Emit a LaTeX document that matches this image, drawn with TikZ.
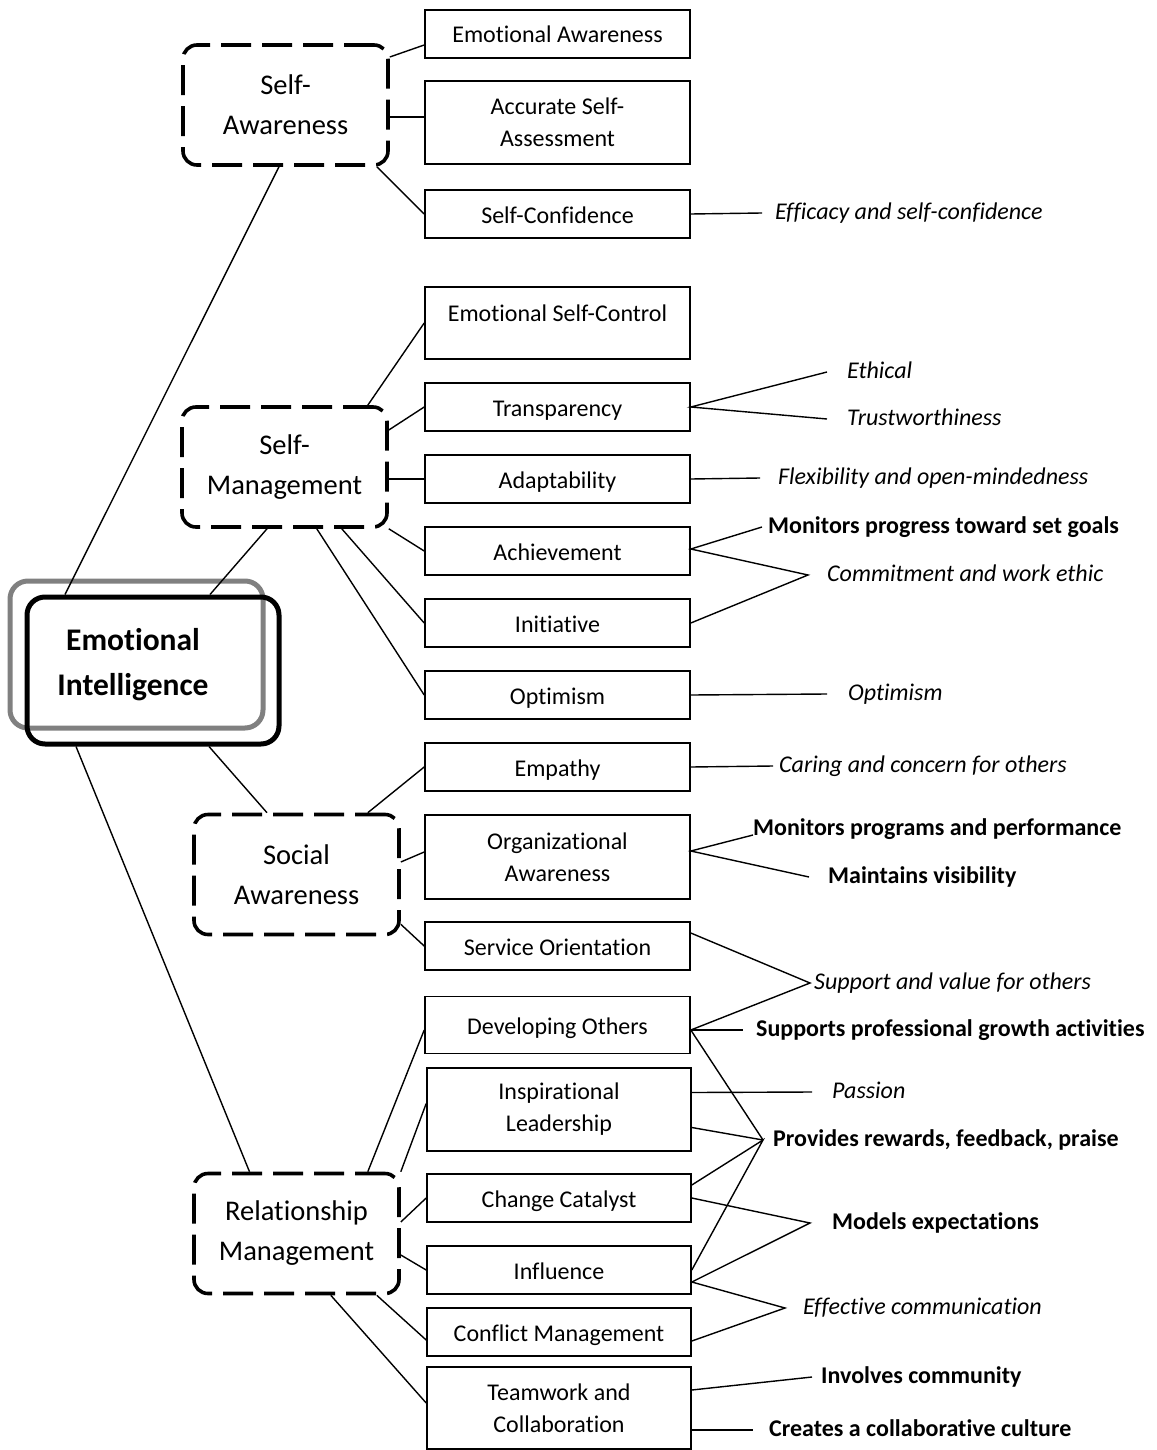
\documentclass[tikz,border=0pt]{standalone}
\usepackage{fontspec}
\setmainfont{Carlito}[Ligatures=NoCommon]
\definecolor{ghostgray}{RGB}{128,128,128}

\begin{document}
\begin{tikzpicture}[x=1pt,y=-1pt,
  box/.style={draw,line width=1.6pt,minimum width=265pt,minimum height=48pt,align=center,inner sep=0pt,font=\fontsize{24}{32}\selectfont},
  leaf/.style={box,text height=20pt,text depth=2pt},
  area/.style={draw,line width=3.6pt,dash pattern=on 30pt off 11pt,rounded corners=14pt,minimum width=205pt,minimum height=120pt,align=center,inner sep=0pt,font=\fontsize{28.5}{40}\selectfont},
  trait/.style={anchor=west,inner sep=0pt,text height=17pt,text depth=5pt,font=\fontsize{24}{29}\selectfont\itshape},
  skill/.style={trait,font=\fontsize{24}{29}\selectfont\bfseries},
  link/.style={line width=1.4pt}]

\useasboundingbox (0,0) rectangle (1156,1450);

% Centre
\node[draw=ghostgray,line width=5pt,rounded corners=18pt,minimum width=253pt,minimum height=147pt] (eighost) at (136.5,654.5) {};
\node[draw,line width=5pt,rounded corners=18pt,minimum width=252pt,minimum height=147pt] (ei) at (153,670.5) {};
\node[align=center,font=\fontsize{31.5}{45}\selectfont\bfseries] (eitext) at (133,665) {Emotional\\Intelligence};

% Areas
\node[area] (sa) at (285.5,105) {Self-\\Awareness};
\node[area] (sm) at (284.5,467) {Self-\\Management};
\node[area] (soc) at (296.5,874.5) {Social\\Awareness};
\node[area] (rm) at (296.5,1233.5) {Relationship\\Management};

\draw[link] ([xshift=-88pt]ei.north) -- ([xshift=-6.5pt]sa.south);
\draw[link] ([xshift=57pt]ei.north) -- ([xshift=-17.5pt]sm.south);
\draw[link] ([xshift=56pt]ei.south) -- ([xshift=-29.5pt]soc.north);
\draw[link] ([xshift=-77pt]ei.south) -- ([xshift=-47pt]rm.north);

% ---- Self-Awareness ----
\node[leaf] (ea) at (557.5,34) {Emotional Awareness};
\node[box,minimum height=83pt] (asa) at (557.5,122.5) {Accurate Self-\\Assessment};
\node[leaf] (sc) at (557.5,214) {Self-Confidence};

\draw[link] ([yshift=48pt]sa.east) -- ([yshift=-11pt]ea.west);
\draw[link] ([yshift=-12pt]sa.east) -- ([yshift=5.5pt]asa.west);
\draw[link] ([xshift=-13pt]sa.south east) -- (sc.west);

\node[trait] (lsc) at (775,213) {Efficacy and self-confidence};
\draw[link] (sc.east) -- ([xshift=-13pt]lsc.west);

% ---- Self-Management ----
\node[box,minimum height=72pt,text height=19pt,text depth=23pt] (esc) at (557.5,323) {Emotional Self-Control};
\node[leaf] (tr) at (557.5,407) {Transparency};
\node[leaf] (ad) at (557.5,479) {Adaptability};
\node[leaf] (ach) at (557.5,551) {Achievement};
\node[leaf] (ini) at (557.5,623) {Initiative};
\node[leaf] (opt) at (557.5,695) {Optimism};

\draw[link] ([xshift=-21pt]sm.north east) -- (esc.west);
\draw[link] ([yshift=37pt]sm.east) -- (tr.west);
\draw[link] ([yshift=-12pt]sm.east) -- (ad.west);
\draw[link] (sm.south east) -- (ach.west);
\draw[link] ([xshift=-47pt]sm.south east) -- (ini.west);
\draw[link] ([xshift=-72pt]sm.south east) -- (opt.west);

\node[trait] (leth) at (847,372) {Ethical};
\node[trait] (ltru) at (847,419) {Trustworthiness};
\node[trait] (lflex) at (778,478) {Flexibility and open-mindedness};
\node[skill] (lmon) at (768,527) {Monitors progress toward set goals};
\node[trait] (lcom) at (827,575) {Commitment and work ethic};
\node[trait] (lopt) at (848,694) {Optimism};

\draw[link] ([xshift=-20pt]leth.west) -- (tr.east) -- ([xshift=-20pt]ltru.west);
\draw[link] (ad.east) -- ([xshift=-18pt]lflex.west);
\draw[link] ([xshift=-6pt]lmon.west) -- ([yshift=2pt]ach.east) -- ([xshift=-19pt]lcom.west) -- (ini.east);
\draw[link] (opt.east) -- ([xshift=-21pt]lopt.west);

% ---- Social Awareness ----
\node[leaf] (emp) at (557.5,767) {Empathy};
\node[box,minimum height=84pt] (orga) at (557.5,857) {Organizational\\Awareness};
\node[leaf] (svc) at (557.5,946) {Service Orientation};

\draw[link] ([xshift=-33pt]soc.north east) -- (emp.west);
\draw[link] ([yshift=12.5pt]soc.east) -- ([yshift=5pt]orga.west);
\draw[link] ([yshift=12pt]soc.south east) -- (svc.west);

\node[trait] (lcar) at (779,766) {Caring and concern for others};
\node[skill] (lmpp) at (753,829) {Monitors programs and performance};
\node[skill] (lvis) at (828,877) {Maintains visibility};
\node[trait] (lsup) at (814,983) {Support and value for others};

\draw[link] (emp.east) -- ([xshift=-6pt]lcar.west);
\draw[link] ([yshift=-6pt]lmpp.west) -- ([yshift=6pt]orga.east) -- ([xshift=-19pt]lvis.west);

% ---- Relationship Management ----
\node[leaf,minimum height=57pt] (dev) at (557.5,1025) {Developing Others};
\node[box,minimum width=264pt,minimum height=83pt] (insp) at (559,1109.5) {Inspirational\\Leadership};
\node[leaf,minimum width=264pt] (cc) at (559,1198) {Change Catalyst};
\node[leaf,minimum width=264pt] (inf) at (559,1270) {Influence};
\node[leaf,minimum width=264pt] (cm) at (559,1332) {Conflict Management};
\node[box,minimum width=264pt,minimum height=82pt] (tw) at (559,1408) {Teamwork and\\Collaboration};

\draw[link] ([xshift=-33pt]rm.north east) -- ([yshift=-5pt]dev.west);
\draw[link] (rm.north east) -- ([yshift=6pt]insp.west);
\draw[link] ([yshift=11.5pt]rm.east) -- (cc.west);
\draw[link] ([yshift=-21.5pt]rm.east) -- (inf.west);
\draw[link] ([xshift=-24pt]rm.south east) -- ([yshift=-8pt]cm.west);
\draw[link] ([xshift=-70pt]rm.south east) -- ([yshift=5pt]tw.west);

\node[skill] (lspg) at (756,1030) {Supports professional growth activities};
\node[trait] (lpas) at (832,1092) {Passion};
\node[skill] (lrew) at (773,1140) {Provides rewards, feedback, praise};
\node[skill] (lmod) at (832,1223) {Models expectations};
\node[trait] (leff) at (803,1308) {Effective communication};
\node[skill] (linv) at (821,1377) {Involves community};
\node[skill] (lcre) at (769,1430) {Creates a collaborative culture};

% Shared outcomes
\draw[link] ([yshift=13pt]svc.east) -- ([xshift=-4pt]lsup.west) -- ([yshift=-5pt]dev.east);
\draw[link] ([yshift=-5pt]dev.east) -- ([xshift=-13pt]lspg.west);
\draw[link] ([yshift=-5pt]dev.east) -- ([xshift=-10pt]lrew.west);
\draw[link] ([yshift=17pt]insp.east) -- ([xshift=-20pt]lpas.west);
\draw[link] ([yshift=-18pt]insp.east) -- ([xshift=-10pt]lrew.west);
\draw[link] ([yshift=13pt]cc.east) -- ([xshift=-10pt]lrew.west) -- (inf.east);
\draw[link] (cc.east) -- ([xshift=-22pt]lmod.west) -- ([yshift=-12pt]inf.east) -- ([xshift=-18pt]leff.west) -- ([yshift=-9pt]cm.east);
\draw[link] ([yshift=18pt]tw.east) -- ([xshift=-9pt]linv.west);
\draw[link] ([yshift=-22pt]tw.east) -- ([xshift=-16pt]lcre.west);

\end{tikzpicture}
\end{document}
